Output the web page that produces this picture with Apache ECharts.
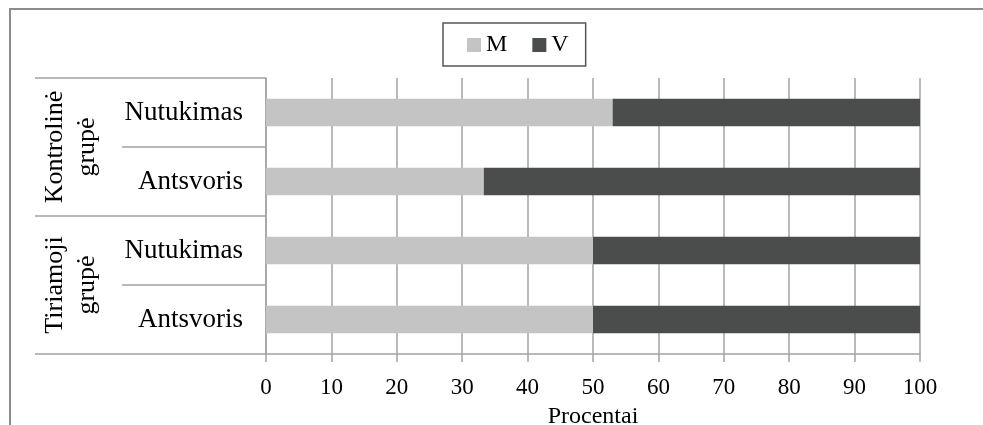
<!DOCTYPE html>
<html>
<head>
<meta charset="utf-8">
<script src="https://cdn.jsdelivr.net/npm/echarts@6/dist/echarts.min.js"></script>
<style>
  html, body { margin: 0; padding: 0; background: #fff; }
  #chart { width: 983px; height: 425px; }
</style>
</head>
<body>
<div id="chart"></div>
<script>
// data
const categories = ["Nutukimas", "Antsvoris", "Nutukimas", "Antsvoris"];
const groups = ["Kontrolinė\ngrupė", "Tiriamoji\ngrupė"];
const valuesM = [53, 33.3, 50, 50];
const valuesV = [47, 66.7, 50, 50];
const xTicks = [0, 100, 10]; // min, max, interval

const font = "Liberation Serif";
const lineColor = "#a3a3a3";

const chart = echarts.init(document.getElementById("chart"));

const option = {
  animation: false,
  textStyle: { fontFamily: font },
  graphic: [
    {
      type: "rect",
      shape: { x: 10, y: 9, width: 1000, height: 500 },
      style: { fill: "none", stroke: "#8c8c8c", lineWidth: 2 },
      z: 0
    }
  ],
  legend: {
    data: ["M", "V"],
    left: 443,
    top: 23,
    padding: [10, 17, 9, 24],
    borderColor: "#555",
    borderWidth: 1.5,
    itemWidth: 14,
    itemHeight: 14,
    itemGap: 25,
    icon: "rect",
    textStyle: { fontFamily: font, fontSize: 24, color: "#000" }
  },
  grid: {
    left: 266,
    right: 63,
    top: 78,
    bottom: 71,
    containLabel: false,
    outerBoundsMode: "none"
  },
  xAxis: {
    type: "value",
    min: xTicks[0],
    max: xTicks[1],
    interval: xTicks[2],
    name: "Procentai",
    nameLocation: "middle",
    nameGap: 51,
    nameTextStyle: { fontFamily: font, fontSize: 24, color: "#000" },
    axisLine: { show: true, lineStyle: { color: lineColor, width: 1.5 } },
    axisTick: { show: true, length: 8, lineStyle: { color: lineColor, width: 1.5 } },
    axisLabel: { fontFamily: font, fontSize: 23, color: "#000", margin: 22 },
    splitLine: { show: true, lineStyle: { color: lineColor, width: 1.5 } }
  },
  yAxis: [
    {
      type: "category",
      data: categories,
      inverse: true,
      axisLine: { show: true, lineStyle: { color: lineColor, width: 1.5 } },
      axisTick: { show: true, interval: 0, length: 144, alignWithLabel: false, lineStyle: { color: lineColor, width: 1.5 } },
      axisLabel: { interval: 0, fontFamily: font, fontSize: 27, color: "#000", margin: 23 },
      splitLine: { show: false }
    },
    {
      type: "category",
      data: groups,
      inverse: true,
      position: "left",
      offset: 144,
      axisLine: { show: false },
      axisTick: { show: true, interval: 0, length: 87, alignWithLabel: false, lineStyle: { color: lineColor, width: 1.5 } },
      axisLabel: {
        interval: 0,
        hideOverlap: false,
        fontFamily: font,
        fontSize: 26,
        color: "#000",
        rotate: 90,
        margin: 19,
        lineHeight: 32,
        align: "center"
      },
      splitLine: { show: false }
    }
  ],
  series: [
    {
      name: "M",
      type: "bar",
      stack: "total",
      barWidth: "40%",
      yAxisIndex: 0,
      data: valuesM,
      itemStyle: { color: "#c4c4c4" }
    },
    {
      name: "V",
      type: "bar",
      stack: "total",
      barWidth: "40%",
      yAxisIndex: 0,
      data: valuesV,
      itemStyle: { color: "#4b4d4c" }
    }
  ]
};

chart.setOption(option);
</script>
</body>
</html>
